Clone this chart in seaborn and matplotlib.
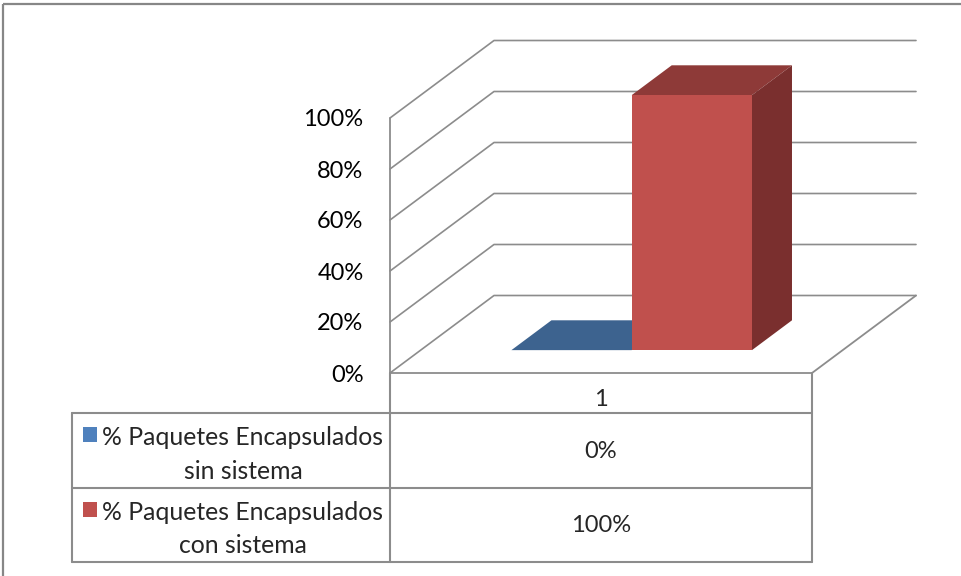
import matplotlib
matplotlib.use("Agg")
import matplotlib.pyplot as plt
import matplotlib.transforms as mtransforms
from matplotlib.patches import Polygon, Rectangle
from matplotlib.lines import Line2D
import seaborn as sns
import pandas as pd

# ---- data ----
categories = ["1"]
series_names = ["% Paquetes Encapsulados\nsin sistema",
                "% Paquetes Encapsulados\ncon sistema"]
series_values = [0, 100]
value_labels = ["0%", "100%"]
y_ticks = [0, 20, 40, 60, 80, 100]
y_tick_labels = ["0%", "20%", "40%", "60%", "80%", "100%"]

front_colors = ["#4F81BD", "#C0504D"]
top_colors = ["#3D638F", "#8E3A38"]
side_colors = ["#2F4C70", "#7A2F2E"]
GRID = "#8C8C8C"
FONT = "Lato"

sns.set_theme(style="white")
plt.rcParams["font.family"] = [FONT, "DejaVu Sans"]

W, H = 961, 576
fig = plt.figure(figsize=(W / 100, H / 100), dpi=100)
fig.patch.set_facecolor("white")

# pixel transform (x from left, y from top)
pix = mtransforms.Affine2D().scale(1 / W, -1 / H).translate(0, 1) + fig.transFigure

# front plane of the plot area (pixels)
L, R, T, B = 390, 812, 118, 373
ax = fig.add_axes([L / W, (H - B) / H, (R - L) / W, (B - T) / H])
ax.set_xlim(-0.5, 0.5)
ax.set_ylim(0, 100)
for s in ax.spines.values():
    s.set_visible(False)
ax.set_facecolor("none")

# depth vector (pixels) converted to data units
DXp, DYp = 104, 77.5
ddx = DXp / (R - L) * 1.0
ddy = DYp / (B - T) * 100.0
D0, D1 = 0.295, 0.68


def P(x, y, d):
    return (x + d * ddx, y + d * ddy)


# walls / gridlines
for v in y_ticks:
    pts = [P(-0.5, v, 0), P(-0.5, v, 1), P(0.5, v, 1)]
    ax.add_line(Line2D([p[0] for p in pts], [p[1] for p in pts], color=GRID,
                       lw=1.2, clip_on=False, zorder=1))
floor = [P(-0.5, 0, 0), P(0.5, 0, 0), P(0.5, 0, 1)]
ax.add_line(Line2D([p[0] for p in floor], [p[1] for p in floor], color=GRID,
                   lw=1.3, clip_on=False, zorder=1))
ax.add_line(Line2D([-0.5, -0.5], [0, 100], color=GRID, lw=1.3, clip_on=False, zorder=1))

# bars
df = pd.DataFrame({"cat": categories * len(series_names),
                   "series": series_names,
                   "value": series_values})
sns.barplot(data=df, x="cat", y="value", hue="series", palette=front_colors,
            width=0.57, saturation=1, ax=ax, legend=False, errorbar=None)
ax.set_xlim(-0.5, 0.5)
ax.set_ylim(0, 100)

bars = [p for p in ax.patches if isinstance(p, Rectangle)]
bars.sort(key=lambda r: r.get_x())
for i, p in enumerate(bars):
    x0, w, h = p.get_x(), p.get_width(), p.get_height()
    z = 3 + i
    p.set_x(x0 + D0 * ddx)
    p.set_y(D0 * ddy)
    p.set_clip_on(False)
    p.set_linewidth(0)
    p.set_zorder(z + 0.5)
    top = [P(x0, h, D0), P(x0 + w, h, D0), P(x0 + w, h, D1), P(x0, h, D1)]
    ax.add_patch(Polygon(top, closed=True, facecolor=top_colors[i], lw=0,
                         clip_on=False, zorder=z))
    if h > 0:
        side = [P(x0 + w, 0, D0), P(x0 + w, h, D0), P(x0 + w, h, D1), P(x0 + w, 0, D1)]
        ax.add_patch(Polygon(side, closed=True, facecolor=side_colors[i], lw=0,
                             clip_on=False, zorder=z))

ax.set_yticks(y_ticks)
ax.set_yticklabels(y_tick_labels, fontsize=17, color="black")
ax.tick_params(axis="y", length=0, pad=19)
ax.set_xticks([])
ax.set_xlabel("")
ax.set_ylabel("")

# ---- data table ----
TL = 72
rows_y = [373, 413, 488, 562]
tbl_lines = [
    ([L, L], [B, rows_y[-1]]),
    ([R, R], [B, rows_y[-1]]),
    ([TL, TL], [rows_y[1], rows_y[-1]]),
    ([TL, R], [rows_y[1], rows_y[1]]),
    ([TL, R], [rows_y[2], rows_y[2]]),
    ([TL, R], [rows_y[3], rows_y[3]]),
]
for xs, ys in tbl_lines:
    fig.add_artist(Line2D(xs, ys, color=GRID, lw=1.5, transform=pix))

cx = (L + R) / 2
fig.text(cx, (rows_y[0] + rows_y[1]) / 2 + 6, categories[0], transform=pix,
         ha="center", va="center", fontsize=17)
for i, name in enumerate(series_names):
    ytop = rows_y[i + 1]
    ymid = (rows_y[i + 1] + rows_y[i + 2]) / 2
    fig.text(cx, ymid + 1, value_labels[i], transform=pix, ha="center",
             va="center", fontsize=17)
    fig.text(243, ymid + 4, name, transform=pix, ha="center", va="center",
             multialignment="center", fontsize=17.8, linespacing=1.55)
    fig.add_artist(Rectangle((83, ytop + 14), 14, 15, facecolor=front_colors[i],
                             lw=0, transform=pix))

# outer chart border (top/left visible)
fig.add_artist(Rectangle((3, 4), 1000, 1000, fill=False, edgecolor="#878787",
                         lw=1.6, transform=pix))

fig.savefig("out.png", dpi=100, facecolor="white")
